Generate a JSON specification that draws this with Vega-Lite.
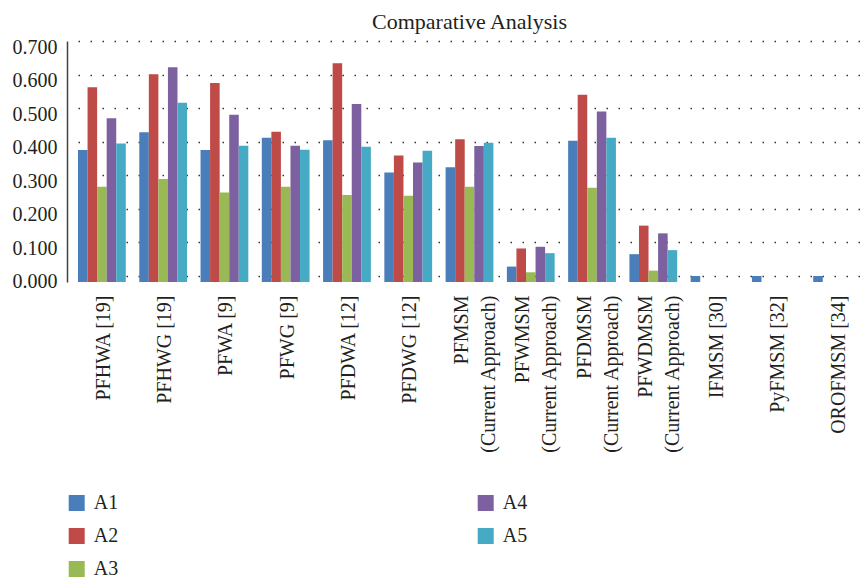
{
  "$schema": "https://vega.github.io/schema/vega-lite/v6.json",
  "width": 783,
  "height": 241,
  "autosize": {"type": "none"},
  "padding": {"left": 78, "top": 41, "right": 0, "bottom": 297},
  "background": "white",
  "title": {"text": "Comparative Analysis", "font": "Liberation Serif", "fontSize": 22, "fontWeight": "normal", "color": "#231f20", "anchor": "middle", "baseline": "bottom", "offset": -19},
  "data": {"values": [
    {"method": "PFHWA [19]", "series": "A1", "value": 0.375},
    {"method": "PFHWA [19]", "series": "A2", "value": 0.562},
    {"method": "PFHWA [19]", "series": "A3", "value": 0.266},
    {"method": "PFHWA [19]", "series": "A4", "value": 0.470},
    {"method": "PFHWA [19]", "series": "A5", "value": 0.395},
    {"method": "PFHWG [19]", "series": "A1", "value": 0.428},
    {"method": "PFHWG [19]", "series": "A2", "value": 0.601},
    {"method": "PFHWG [19]", "series": "A3", "value": 0.289},
    {"method": "PFHWG [19]", "series": "A4", "value": 0.622},
    {"method": "PFHWG [19]", "series": "A5", "value": 0.516},
    {"method": "PFWA [9]", "series": "A1", "value": 0.375},
    {"method": "PFWA [9]", "series": "A2", "value": 0.575},
    {"method": "PFWA [9]", "series": "A3", "value": 0.249},
    {"method": "PFWA [9]", "series": "A4", "value": 0.480},
    {"method": "PFWA [9]", "series": "A5", "value": 0.388},
    {"method": "PFWG [9]", "series": "A1", "value": 0.412},
    {"method": "PFWG [9]", "series": "A2", "value": 0.430},
    {"method": "PFWG [9]", "series": "A3", "value": 0.266},
    {"method": "PFWG [9]", "series": "A4", "value": 0.388},
    {"method": "PFWG [9]", "series": "A5", "value": 0.376},
    {"method": "PFDWA [12]", "series": "A1", "value": 0.404},
    {"method": "PFDWA [12]", "series": "A2", "value": 0.634},
    {"method": "PFDWA [12]", "series": "A3", "value": 0.241},
    {"method": "PFDWA [12]", "series": "A4", "value": 0.512},
    {"method": "PFDWA [12]", "series": "A5", "value": 0.385},
    {"method": "PFDWG [12]", "series": "A1", "value": 0.308},
    {"method": "PFDWG [12]", "series": "A2", "value": 0.359},
    {"method": "PFDWG [12]", "series": "A3", "value": 0.239},
    {"method": "PFDWG [12]", "series": "A4", "value": 0.338},
    {"method": "PFDWG [12]", "series": "A5", "value": 0.373},
    {"method": "PFMSM (Current Approach)", "series": "A1", "value": 0.324},
    {"method": "PFMSM (Current Approach)", "series": "A2", "value": 0.407},
    {"method": "PFMSM (Current Approach)", "series": "A3", "value": 0.266},
    {"method": "PFMSM (Current Approach)", "series": "A4", "value": 0.387},
    {"method": "PFMSM (Current Approach)", "series": "A5", "value": 0.397},
    {"method": "PFWMSM (Current Approach)", "series": "A1", "value": 0.028},
    {"method": "PFWMSM (Current Approach)", "series": "A2", "value": 0.082},
    {"method": "PFWMSM (Current Approach)", "series": "A3", "value": 0.011},
    {"method": "PFWMSM (Current Approach)", "series": "A4", "value": 0.087},
    {"method": "PFWMSM (Current Approach)", "series": "A5", "value": 0.068},
    {"method": "PFDMSM (Current Approach)", "series": "A1", "value": 0.403},
    {"method": "PFDMSM (Current Approach)", "series": "A2", "value": 0.540},
    {"method": "PFDMSM (Current Approach)", "series": "A3", "value": 0.263},
    {"method": "PFDMSM (Current Approach)", "series": "A4", "value": 0.490},
    {"method": "PFDMSM (Current Approach)", "series": "A5", "value": 0.412},
    {"method": "PFWDMSM (Current Approach)", "series": "A1", "value": 0.065},
    {"method": "PFWDMSM (Current Approach)", "series": "A2", "value": 0.150},
    {"method": "PFWDMSM (Current Approach)", "series": "A3", "value": 0.016},
    {"method": "PFWDMSM (Current Approach)", "series": "A4", "value": 0.127},
    {"method": "PFWDMSM (Current Approach)", "series": "A5", "value": 0.077},
    {"method": "IFMSM [30]", "series": "A1", "value": 0.0},
    {"method": "PyFMSM [32]", "series": "A1", "value": 0.0},
    {"method": "OROFMSM [34]", "series": "A1", "value": 0.0}
  ]},
  "mark": {"type": "bar"},
  "encoding": {
    "x": {
      "field": "method", "type": "nominal", "sort": null,
      "scale": {"paddingInner": 0.22, "paddingOuter": 0},
      "axis": {
        "title": null, "labelAngle": -90, "labelAlign": "right", "labelBaseline": "middle",
        "labelFont": "Liberation Serif", "labelFontSize": 20, "labelColor": "#231f20",
        "ticks": false, "domain": false, "labelPadding": 13, "labelLineHeight": 27,
        "labelLimit": 400, "labelOverlap": false,
        "labelExpr": "indexof(datum.label, ' (') > 0 ? [substring(datum.label, 0, indexof(datum.label, ' (')), substring(datum.label, indexof(datum.label, ' (') + 1)] : datum.label",
        "labelOffset": {"condition": {"test": "indexof(datum.label, ' (') > 0", "value": -7.5}, "value": 2}
      }
    },
    "xOffset": {"field": "series", "type": "nominal", "sort": ["A1", "A2", "A3", "A4", "A5"], "scale": {"paddingInner": 0, "paddingOuter": 0}},
    "y": {
      "field": "value", "type": "quantitative",
      "scale": {"domain": [-0.0179, 0.7], "nice": false, "zero": false},
      "axis": {
        "title": null, "values": [0, 0.1, 0.2, 0.3, 0.4, 0.5, 0.6, 0.7], "format": ".3f",
        "offset": 11, "domainColor": "#404040", "domainWidth": 1.5, "ticks": false,
        "labelPadding": 10, "labelOffset": 6, "labelFlush": false, "labelOverlap": false,
        "labelFont": "Liberation Serif", "labelFontSize": 20, "labelColor": "#231f20",
        "grid": true, "gridDash": [1.5, 10.5], "gridColor": "#333333", "gridWidth": 1.3
      }
    },
    "y2": {"datum": -0.0179},
    "color": {
      "field": "series", "type": "nominal",
      "scale": {"domain": ["A1", "A2", "A3", "A4", "A5"], "range": ["#4A7EBB", "#BE4B48", "#98B954", "#7D60A0", "#46AAC5"]},
      "legend": {
        "title": null, "orient": "none", "legendX": -11.3, "legendY": 452, "columns": 2,
        "columnPadding": 357, "rowPadding": 13, "symbolType": "square", "symbolSize": 256,
        "symbolStrokeWidth": 0, "symbolOpacity": 1, "labelFont": "Liberation Serif", "labelFontSize": 20,
        "labelColor": "#231f20", "labelOffset": 7, "padding": 0
      }
    }
  },
  "config": {"view": {"stroke": null}}
}
